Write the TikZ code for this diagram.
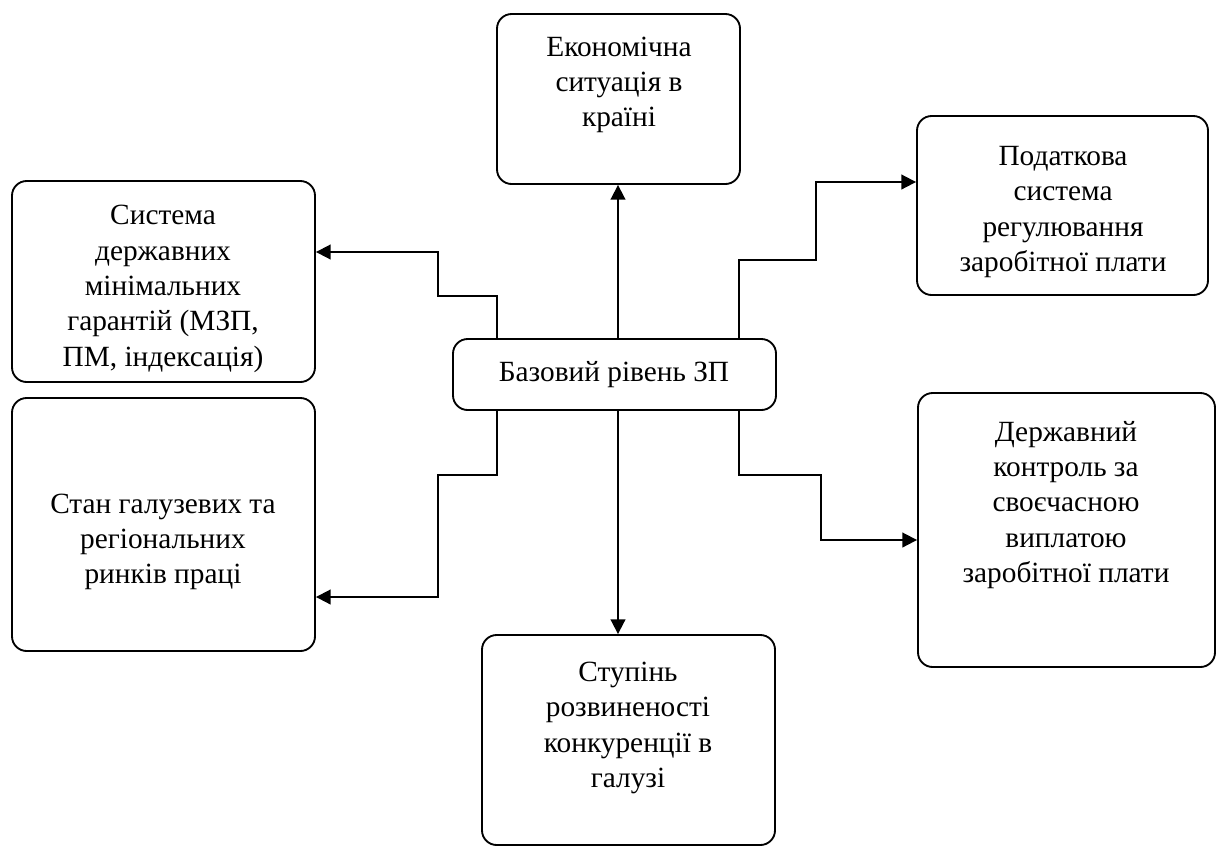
\documentclass[tikz,border=0pt]{standalone}
\usepackage{fontspec}
\setmainfont{Liberation Serif}
\usetikzlibrary{arrows.meta}
\begin{document}
\begin{tikzpicture}[x=0.75pt,y=-0.75pt,
  box/.style={draw, rounded corners=11pt, line width=1.4pt, inner sep=0pt},
  txt/.style={align=center, inner sep=0pt, font=\fontsize{22pt}{26.5pt}\selectfont},
  conn/.style={line width=1.4pt, -{Triangle[length=11pt,width=11pt]}}]
\useasboundingbox (0,0) rectangle (1217,847);
% boxes
\node[box, minimum width=182.25pt, minimum height=127.5pt] (btop) at (618.5,99) {};
\node[box, minimum width=227.25pt, minimum height=150.75pt] (blt) at (163.5,281.5) {};
\node[box, minimum width=218.25pt, minimum height=134.25pt] (brt) at (1062.5,205.5) {};
\node[box, minimum width=242.25pt, minimum height=53.25pt] (bc) at (614.5,374.5) {};
\node[box, minimum width=227.25pt, minimum height=189.75pt] (blb) at (163.5,524.5) {};
\node[box, minimum width=222.75pt, minimum height=205.5pt] (brb) at (1066.5,530) {};
\node[box, minimum width=219.75pt, minimum height=157.5pt] (bbot) at (628.5,740) {};
% texts
\node[txt] (ttop) at (619,85) {Економічна\\ситуація в\\країні};
\node[txt] (tlt) at (163,289) {Система\\державних\\мінімальних\\гарантій (МЗП,\\ПМ, індексація)};
\node[txt] (trt) at (1063,212) {Податкова\\система\\регулювання\\заробітної плати};
\node[txt] (tc) at (614,375) {Базовий рівень ЗП};
\node[txt] (tlb) at (163,542) {Стан галузевих та\\регіональних\\ринків праці};
\node[txt] (trb) at (1066,505) {Державний\\контроль за\\своєчасною\\виплатою\\заробітної плати};
\node[txt] (tbot) at (628,728) {Ступінь\\розвиненості\\конкуренції в\\галузі};
% helper coordinates
\coordinate (xl) at (497,0);
\coordinate (xr) at (739,0);
\coordinate (xm) at (618,0);
\coordinate (sl) at (438,0);
\coordinate (str) at (816,0);
\coordinate (sbr) at (821,0);
\coordinate (y1) at (0,296);
\coordinate (y2) at (0,260);
\coordinate (y3) at (0,475);
\coordinate (ylt) at (0,252);
\coordinate (yrt) at (0,182);
\coordinate (ylb) at (0,597);
\coordinate (yrb) at (0,540);
% connectors
\draw[conn] (bc.north -| xm) -- (btop.south -| xm);
\draw[conn] (bc.south -| xm) -- (bbot.north -| xm);
\draw[conn] (bc.north -| xl) -- (xl |- y1) -- (sl |- y1) -- (sl |- ylt) -- (blt.east |- ylt);
\draw[conn] (bc.north -| xr) -- (xr |- y2) -- (str |- y2) -- (str |- yrt) -- (brt.west |- yrt);
\draw[conn] (bc.south -| xl) -- (xl |- y3) -- (sl |- y3) -- (sl |- ylb) -- (blb.east |- ylb);
\draw[conn] (bc.south -| xr) -- (xr |- y3) -- (sbr |- y3) -- (sbr |- yrb) -- (brb.west |- yrb);
\end{tikzpicture}
\end{document}
